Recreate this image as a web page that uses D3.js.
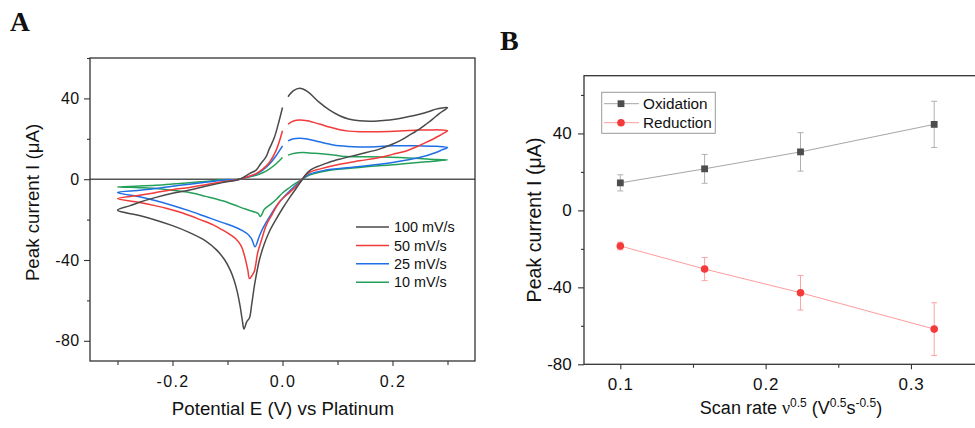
<!DOCTYPE html>
<html><head><meta charset="utf-8">
<script src="https://cdn.jsdelivr.net/npm/d3@7"></script>
<style>
body{margin:0;background:#fff}
svg{display:block}
text{font-family:"Liberation Sans",Arial,sans-serif;fill:#111}
</style>
</head><body>
<svg id="c" width="975" height="428"></svg>
<script>
// ---------- DATA: Panel A (cyclic voltammograms, [E (V), I (µA)]) ----------
const cvLabels = ["100 mV/s", "50 mV/s", "25 mV/s", "10 mV/s"];
const cv100 = [[0.010,40.8],[0.020,43.8],[0.031,45.0],[0.045,43.5],[0.067,38.0],[0.085,34.3],[0.104,31.4],[0.120,29.8],[0.140,28.9],[0.160,28.7],[0.176,28.9],[0.195,29.3],[0.213,30.1],[0.230,31.0],[0.249,32.2],[0.265,33.4],[0.279,34.7],[0.290,35.3],[0.300,35.5],
  [0.285,32.5],[0.273,29.7],[0.260,27.0],[0.249,24.8],[0.230,21.7],[0.213,19.0],[0.195,16.8],[0.176,14.9],[0.140,12.4],[0.104,9.9],[0.085,8.4],[0.067,6.6],[0.055,5.2],[0.049,4.1],[0.042,2.2],[0.035,-0.5],[0.025,-4.5],[0.013,-9.1],[0.000,-14.5],[-0.012,-20],[-0.024,-26],[-0.033,-32],[-0.042,-40],[-0.050,-51],[-0.056,-62],[-0.060,-68.6],[-0.065,-70.5],[-0.070,-74.2],
  [-0.073,-70],[-0.077,-63],[-0.082,-56],[-0.088,-50],[-0.095,-45],[-0.105,-40],[-0.120,-35],[-0.140,-30.5],[-0.170,-26.3],[-0.200,-23],[-0.230,-20.3],[-0.260,-18],[-0.300,-15.3],
  [-0.278,-13.2],[-0.260,-11.4],[-0.230,-9.0],[-0.200,-7.0],[-0.169,-5.3],[-0.140,-3.5],[-0.109,-1.7],[-0.078,0],[-0.060,2.8],[-0.048,4.5],[-0.040,7.5],[-0.030,11],[-0.024,15],[-0.015,20.5],[-0.008,27],[0.000,35.5]];
const cv50 = [[0.010,27.3],[0.020,28.8],[0.031,29.3],[0.045,28.9],[0.067,27.3],[0.085,25.8],[0.104,24.5],[0.120,23.8],[0.140,23.5],[0.176,23.5],[0.213,23.8],[0.249,24.3],[0.270,24.4],[0.285,24.4],[0.300,24.0],
  [0.293,22.8],[0.285,21.5],[0.261,18.2],[0.245,16.2],[0.225,14.0],[0.200,12.3],[0.176,10.7],[0.140,9.1],[0.104,7.4],[0.067,5.0],[0.050,3.5],[0.042,2.0],[0.035,-0.3],[0.025,-3.5],[0.013,-6.5],[-0.005,-11],[-0.018,-17],[-0.030,-23.1],[-0.038,-30],[-0.045,-36.3],[-0.051,-45.4],[-0.055,-47.5],[-0.060,-49.2],
  [-0.063,-45],[-0.066,-41.3],[-0.070,-37],[-0.075,-33.1],[-0.085,-29.5],[-0.096,-27.3],[-0.110,-25],[-0.127,-22.5],[-0.150,-20],[-0.169,-18],[-0.190,-16],[-0.210,-14.5],[-0.230,-13.2],[-0.260,-11.5],[-0.300,-9.6],
  [-0.260,-8],[-0.230,-6.6],[-0.200,-5.2],[-0.169,-4.1],[-0.140,-2.7],[-0.109,-1.3],[-0.078,0],[-0.060,1.5],[-0.048,2.8],[-0.036,5],[-0.024,8.3],[-0.012,14],[0.000,24]];
const cv25 = [[0.010,19.0],[0.020,20.0],[0.031,20.3],[0.045,19.9],[0.067,18.5],[0.085,17.4],[0.104,16.5],[0.140,16.0],[0.170,16.1],[0.200,16.5],[0.249,16.5],[0.280,16.3],[0.300,15.7],
  [0.290,14.5],[0.279,13.2],[0.249,10.7],[0.200,8.3],[0.140,6.3],[0.079,4.5],[0.049,2.5],[0.035,-0.3],[0.025,-2.8],[0.013,-5.8],[0.000,-9.5],[-0.011,-13.2],[-0.020,-17],[-0.030,-21.5],[-0.036,-24.5],[-0.042,-28.1],[-0.050,-33.5],
  [-0.054,-31],[-0.057,-29.2],[-0.064,-27],[-0.072,-25.6],[-0.090,-23.3],[-0.109,-21.5],[-0.140,-18.5],[-0.169,-15.7],[-0.200,-13],[-0.230,-10.7],[-0.260,-8.7],[-0.300,-6.6],
  [-0.260,-5.5],[-0.230,-4.6],[-0.200,-3.5],[-0.169,-2.5],[-0.140,-1.5],[-0.109,-0.5],[-0.078,0],[-0.060,1.3],[-0.048,2.5],[-0.036,4.5],[-0.024,7.4],[-0.012,11.5],[0.000,16.5]];
const cv10 = [[0.010,11.9],[0.020,12.7],[0.037,13.2],[0.055,12.9],[0.079,12.4],[0.100,11.7],[0.116,11.2],[0.150,11.1],[0.180,11.0],[0.213,10.7],[0.249,10.2],[0.280,9.7],[0.300,9.6],
  [0.280,9.0],[0.261,8.6],[0.213,7.4],[0.140,5.8],[0.079,4.1],[0.049,2.0],[0.035,-0.2],[0.025,-1.8],[0.013,-4.1],[0.000,-6.8],[-0.011,-9.9],[-0.022,-12.5],[-0.033,-14.9],[-0.040,-18.5],
  [-0.044,-17],[-0.048,-16.5],[-0.066,-14.9],[-0.090,-12.5],[-0.109,-10.7],[-0.140,-8.5],[-0.169,-6.6],[-0.200,-5.5],[-0.230,-4.6],[-0.260,-4.2],[-0.300,-3.8],
  [-0.260,-3.4],[-0.230,-3.0],[-0.200,-2.4],[-0.169,-1.7],[-0.140,-1.1],[-0.109,-0.3],[-0.078,0],[-0.060,1.2],[-0.048,2.0],[-0.036,3.2],[-0.024,5.0],[-0.012,7.5],[0.000,10.7]];
const xTicksA = [-0.2, 0.0, 0.2];
const xTickLabelsA = ["-0.2", "0.0", "0.2"];
const xMinorA = [-0.3, -0.1, 0.1, 0.3];
const yTicksA = [40, 0, -40, -80];
const yTickLabelsA = ["40", "0", "-40", "-80"];
const yMinorA = [60, 20, -20, -60];

// ---------- DATA: Panel B (peak current vs sqrt scan rate) ----------
const scanRateSqrt = [0.1, 0.158, 0.224, 0.316];
const oxPeak = [14.3, 21.6, 30.4, 44.7];
const oxErr = [4.2, 7.5, 10.0, 12.0];
const redPeak = [-18.5, -30.5, -42.8, -61.7];
const redErr = [2.0, 6.0, 9.0, 13.7];
const xTicksB = [0.1, 0.2, 0.3];
const xTickLabelsB = ["0.1", "0.2", "0.3"];
const xMinorB = [0.15, 0.25];
const yTicksB = [40, 0, -40, -80];
const yTickLabelsB = ["40", "0", "-40", "-80"];
const yMinorB = [60, 20, -20, -60];
const seriesB = ["Oxidation", "Reduction"];

// ---------- STYLE ----------
const cvColors = ["#4a4a4a", "#f23a3a", "#1f6fe6", "#25a05a"];
const axisColor = "#333";

const svg = d3.select("#c");

function styleAxis(g) {
  g.select(".domain").remove();
  g.selectAll(".tick line").attr("stroke", axisColor).attr("stroke-width", 1.1);
}

// ================= PANEL A =================
const xA = d3.scaleLinear().domain([-0.35, 0.35]).range([90, 475]);
const yA = d3.scaleLinear().domain([-90, 60]).range([361, 58]);
const gA = svg.append("g");

gA.append("g").attr("transform", "translate(0,361)")
  .call(d3.axisBottom(xA).tickValues(xTicksA).tickSize(5).tickPadding(10)
    .tickFormat((d, i) => xTickLabelsA[i]))
  .call(styleAxis)
  .call(g => g.selectAll("text").attr("font-size", 16).attr("letter-spacing", 1.4).attr("fill", "#111"));
gA.append("g").attr("transform", "translate(0,361)")
  .call(d3.axisBottom(xA).tickValues(xMinorA).tickSize(4).tickFormat(""))
  .call(styleAxis);
gA.append("g").attr("transform", "translate(90,0)")
  .call(d3.axisLeft(yA).tickValues(yTicksA).tickSize(6).tickPadding(4.5)
    .tickFormat((d, i) => yTickLabelsA[i]))
  .call(styleAxis)
  .call(g => g.selectAll("text").attr("font-size", 16).attr("letter-spacing", 0.4).attr("fill", "#111"));
gA.append("g").attr("transform", "translate(90,0)")
  .call(d3.axisLeft(yA).tickValues(yMinorA).tickSize(3).tickFormat(""))
  .call(styleAxis);

// zero line
gA.append("line").attr("x1", xA(-0.35)).attr("x2", xA(0.35))
  .attr("y1", yA(0)).attr("y2", yA(0)).attr("stroke", "#555").attr("stroke-width", 1.6);

const lineA = d3.line().x(d => xA(d[0])).y(d => yA(d[1])).curve(d3.curveCatmullRom.alpha(0.5));
[cv10, cv25, cv50, cv100].forEach((cv, k) => {
  const idx = 3 - k;
  gA.append("path").attr("d", lineA(cv)).attr("fill", "none")
    .attr("stroke", cvColors[idx]).attr("stroke-width", 1.5).attr("stroke-linejoin", "round");
});

// frame
gA.append("rect").attr("x", 90).attr("y", 58).attr("width", 385).attr("height", 303)
  .attr("fill", "none").attr("stroke", axisColor).attr("stroke-width", 1.3);

// legend A
cvLabels.forEach((lab, i) => {
  const yy = 227 + i * 18.4;
  gA.append("line").attr("x1", 356).attr("x2", 389).attr("y1", yy).attr("y2", yy)
    .attr("stroke", cvColors[i]).attr("stroke-width", 1.5);
  gA.append("text").attr("x", 394).attr("y", yy).attr("dy", "0.36em")
    .attr("font-size", 14.4).text(lab);
});

// axis titles A
gA.append("text").attr("x", 283).attr("y", 415).attr("text-anchor", "middle")
  .attr("font-size", 18.7).text("Potential E (V) vs Platinum");
gA.append("text").attr("transform", "translate(38.5,202.5) rotate(-90)").attr("text-anchor", "middle")
  .attr("font-size", 18.7).text("Peak current I (μA)");
svg.append("text").attr("x", 10).attr("y", 31).attr("font-size", 27.5).attr("font-weight", "bold")
  .style("font-family", "'Liberation Serif','DejaVu Serif',serif").text("A");

// ================= PANEL B =================
const xB = d3.scaleLinear().domain([0.075, 0.35]).range([584, 983.6]);
const yB = d3.scaleLinear().domain([-80, 70]).range([364.3, 75.7]);
const gB = svg.append("g");

gB.append("g").attr("transform", "translate(0,364.3)")
  .call(d3.axisBottom(xB).tickValues(xTicksB).tickSize(5).tickPadding(8.5)
    .tickFormat((d, i) => xTickLabelsB[i]))
  .call(styleAxis)
  .call(g => g.selectAll("text").attr("font-size", 17).attr("letter-spacing", 0.8).attr("fill", "#111"));
gB.append("g").attr("transform", "translate(0,364.3)")
  .call(d3.axisBottom(xB).tickValues(xMinorB).tickSize(3.5).tickFormat(""))
  .call(styleAxis);
gB.append("g").attr("transform", "translate(584,0)")
  .call(d3.axisLeft(yB).tickValues(yTicksB).tickSize(6).tickPadding(6.3)
    .tickFormat((d, i) => yTickLabelsB[i]))
  .call(styleAxis)
  .call(g => g.selectAll("text").attr("font-size", 17).attr("fill", "#111"));
gB.append("g").attr("transform", "translate(584,0)")
  .call(d3.axisLeft(yB).tickValues(yMinorB).tickSize(3).tickFormat(""))
  .call(styleAxis);

const ptsOx = scanRateSqrt.map((x, i) => ({x, y: oxPeak[i], e: oxErr[i]}));
const ptsRed = scanRateSqrt.map((x, i) => ({x, y: redPeak[i], e: redErr[i]}));
const lineB = d3.line().x(d => xB(d.x)).y(d => yB(d.y));

function drawSeries(pts, lineCol, errCol) {
  gB.append("path").attr("d", lineB(pts)).attr("fill", "none").attr("stroke", lineCol).attr("stroke-width", 1);
  const eg = gB.append("g").attr("stroke", errCol).attr("stroke-width", 1);
  pts.forEach(p => {
    const cx = xB(p.x);
    eg.append("line").attr("x1", cx).attr("x2", cx).attr("y1", yB(p.y + p.e)).attr("y2", yB(p.y - p.e));
    eg.append("line").attr("x1", cx - 3).attr("x2", cx + 3).attr("y1", yB(p.y + p.e)).attr("y2", yB(p.y + p.e));
    eg.append("line").attr("x1", cx - 3).attr("x2", cx + 3).attr("y1", yB(p.y - p.e)).attr("y2", yB(p.y - p.e));
  });
}
drawSeries(ptsOx, "#a6a6a6", "#b0b0b0");
drawSeries(ptsRed, "#ff9c9c", "#ffa3a3");
gB.selectAll(".sq").data(ptsOx).join("rect").attr("class", "sq")
  .attr("x", d => xB(d.x) - 3.4).attr("y", d => yB(d.y) - 3.4).attr("width", 6.8).attr("height", 6.8)
  .attr("fill", "#4d4d4d");
gB.selectAll(".ci").data(ptsRed).join("circle").attr("class", "ci")
  .attr("cx", d => xB(d.x)).attr("cy", d => yB(d.y)).attr("r", 3.8).attr("fill", "#f53a3a");

// frame B
gB.append("rect").attr("x", 584).attr("y", 75.7).attr("width", 400).attr("height", 288.6)
  .attr("fill", "none").attr("stroke", axisColor).attr("stroke-width", 1.3);

// legend B
gB.append("rect").attr("x", 601.7).attr("y", 92.3).attr("width", 113.6).attr("height", 41)
  .attr("fill", "#fff").attr("stroke", "#999").attr("stroke-width", 1);
const legY = [103.7, 122.7];
gB.append("line").attr("x1", 604).attr("x2", 639).attr("y1", legY[0]).attr("y2", legY[0]).attr("stroke", "#a6a6a6");
gB.append("rect").attr("x", 621 - 3.4).attr("y", legY[0] - 3.4).attr("width", 6.8).attr("height", 6.8).attr("fill", "#4d4d4d");
gB.append("line").attr("x1", 604).attr("x2", 639).attr("y1", legY[1]).attr("y2", legY[1]).attr("stroke", "#ff9c9c");
gB.append("circle").attr("cx", 621).attr("cy", legY[1]).attr("r", 3.8).attr("fill", "#f53a3a");
seriesB.forEach((s, i) => {
  gB.append("text").attr("x", 643).attr("y", legY[i]).attr("dy", "0.36em").attr("font-size", 15.3).text(s);
});

// axis titles B
const xt = gB.append("text").attr("x", 791).attr("y", 414).attr("text-anchor", "middle").attr("font-size", 18);
xt.append("tspan").text("Scan rate ");
xt.append("tspan").text("ν").style("font-family", "'Liberation Serif','DejaVu Serif',serif");
xt.append("tspan").text("0.5").attr("font-size", 12).attr("dy", -7);
xt.append("tspan").text(" (V").attr("dy", 7);
xt.append("tspan").text("0.5").attr("font-size", 12).attr("dy", -7);
xt.append("tspan").text("s").attr("dy", 7);
xt.append("tspan").text("-0.5").attr("font-size", 12).attr("dy", -7);
xt.append("tspan").text(")").attr("dy", 7);

gB.append("text").attr("transform", "translate(541,220) rotate(-90)").attr("text-anchor", "middle")
  .attr("font-size", 19.6).text("Peak current I (μA)");
svg.append("text").attr("x", 500).attr("y", 49.5).attr("font-size", 28).attr("font-weight", "bold")
  .style("font-family", "'Liberation Serif','DejaVu Serif',serif").text("B");
</script>
</body></html>
